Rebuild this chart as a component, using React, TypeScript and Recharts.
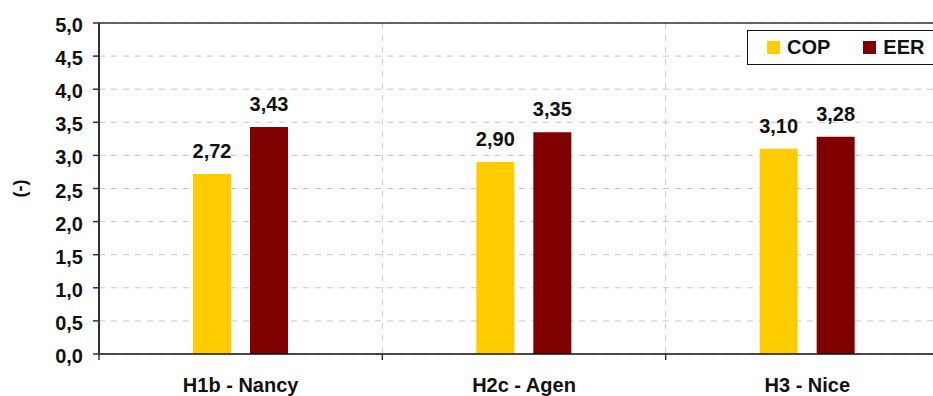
import React from 'react';
import { BarChart, Bar, XAxis, YAxis, CartesianGrid, LabelList, ReferenceLine } from 'recharts';

const categories = ['H1b - Nancy', 'H2c - Agen', 'H3 - Nice'];
const copValues = [2.72, 2.9, 3.1];
const eerValues = [3.43, 3.35, 3.28];
const yTicks = [0, 0.5, 1, 1.5, 2, 2.5, 3, 3.5, 4, 4.5, 5];
const seriesNames = ['COP', 'EER'];
const seriesColors = ['#FFCC00', '#800000'];

const data = categories.map((c, i) => ({ name: c, COP: copValues[i], EER: eerValues[i] }));

const FONT = '"Liberation Sans", Arial, sans-serif';
const FS = 20;
const CHART_W = 960;
const CHART_H = 396;
const MARGIN = { top: 23, right: 11, bottom: 0, left: 0 };
const YAXIS_W = 99;
const PLOT_W = CHART_W - MARGIN.left - MARGIN.right - YAXIS_W;
const BAND = PLOT_W / categories.length;

const fmt = (v: number) => v.toFixed(2).replace('.', ',');
const fmt1 = (v: number) => v.toFixed(1).replace('.', ',');

const XTick = (props: any) => {
  const { x, y, payload } = props;
  const axisY = y - 6;
  return (
    <g>
      <line x1={x - BAND / 2} x2={x - BAND / 2} y1={axisY} y2={axisY + 6} stroke="#333" strokeWidth={1.5} />
      <text x={x} y={axisY + 38} textAnchor="middle" fontFamily={FONT} fontWeight="bold" fontSize={FS} fill="#111">
        {payload.value}
      </text>
    </g>
  );
};

const YTick = (props: any) => {
  const { x, y, payload } = props;
  return (
    <text x={x} y={y + 9} textAnchor="end" fontFamily={FONT} fontWeight="bold" fontSize={FS} fill="#111">
      {fmt1(payload.value)}
    </text>
  );
};

const LegendBox = () => (
  <div
    style={{
      position: 'absolute',
      left: 747,
      top: 30,
      border: '1.5px solid #111',
      height: 35,
      width: 220,
      boxSizing: 'border-box',
      display: 'flex',
      alignItems: 'center',
      fontFamily: FONT,
      fontWeight: 'bold',
      fontSize: FS,
      color: '#111',
      background: '#fff',
    }}
  >
    {seriesNames.map((n, i) => (
      <div key={n} style={{ display: 'flex', alignItems: 'center', marginLeft: i === 0 ? 19 : 33 }}>
        <div style={{ width: 13, height: 13, background: seriesColors[i], marginRight: 7 }} />
        <span>{n}</span>
      </div>
    ))}
  </div>
);

const YLabel = (props: any) => {
  const { viewBox } = props;
  const cy = viewBox.y + viewBox.height / 2;
  return (
    <text x={20} y={cy} transform={`rotate(-90, 20, ${cy})`} textAnchor="middle" dominantBaseline="central" fontFamily={FONT} fontWeight="bold" fontSize={18} fill="#111">
      (-)
    </text>
  );
};

export default function App() {
  return (
    <div style={{ position: 'absolute', left: 0, top: 0, width: 933, height: 396, overflow: 'hidden', background: '#fff' }}>
      <BarChart width={CHART_W} height={CHART_H} data={data} margin={MARGIN} barSize={38} barGap={19}>
        <CartesianGrid
          stroke="#c8c8c8"
          strokeDasharray="6 6"
          verticalCoordinatesGenerator={({ offset }: any) =>
            categories.map((_, i) => offset.left + i * (offset.width / categories.length)).slice(1)
          }
        />
        <XAxis
          dataKey="name"
          tickLine={false}
          tickSize={6}
          tickMargin={0}
          height={42}
          axisLine={{ stroke: '#111', strokeWidth: 1.5 }}
          tick={<XTick />}
          interval={0}
        />
        <YAxis
          domain={[0, 5]}
          ticks={yTicks}
          width={YAXIS_W}
          tickSize={6}
          tickMargin={10}
          tickLine={{ stroke: '#333', strokeWidth: 1.5 }}
          axisLine={{ stroke: '#333', strokeWidth: 2 }}
          tick={<YTick />}
          interval={0}
          label={<YLabel />}
        />
        <ReferenceLine y={5} stroke="#333" strokeWidth={1.5} ifOverflow="visible" />
        <Bar dataKey="COP" fill={seriesColors[0]} isAnimationActive={false}>
          <LabelList dataKey="COP" position="top" offset={16} formatter={(v: any) => fmt(Number(v))} style={{ fontFamily: FONT, fontWeight: 'bold', fontSize: FS, fill: '#111' }} />
        </Bar>
        <Bar dataKey="EER" fill={seriesColors[1]} isAnimationActive={false}>
          <LabelList dataKey="EER" position="top" offset={16} formatter={(v: any) => fmt(Number(v))} style={{ fontFamily: FONT, fontWeight: 'bold', fontSize: FS, fill: '#111' }} />
        </Bar>
      </BarChart>
      <LegendBox />
    </div>
  );
}
